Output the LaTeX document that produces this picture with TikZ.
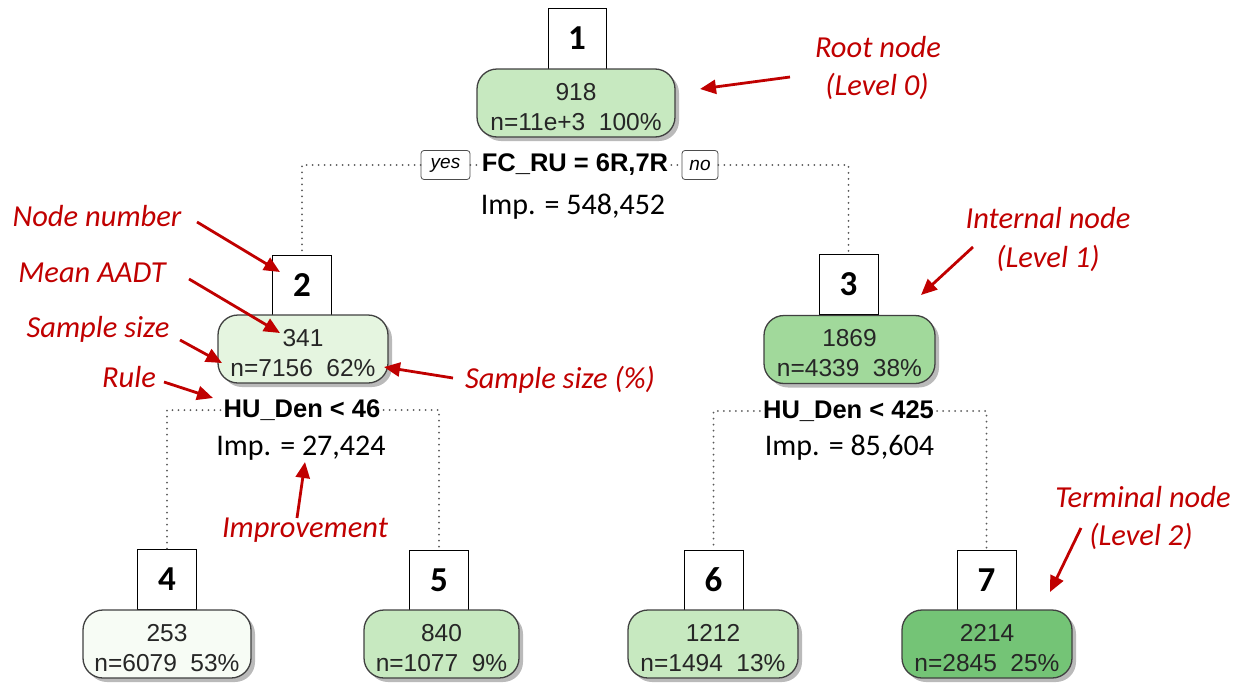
\documentclass[tikz,border=0pt]{standalone}
\usepackage{fontspec}
\setmainfont{Carlito}
\newfontfamily\arialfont{Liberation Sans}
\usetikzlibrary{arrows.meta,shadows}

\definecolor{gA}{HTML}{C7E9C0}
\definecolor{gB}{HTML}{E5F5E0}
\definecolor{gC}{HTML}{A1D99B}
\definecolor{gD}{HTML}{F7FCF5}
\definecolor{gE}{HTML}{74C476}
\definecolor{annred}{HTML}{C00000}

% two centred lines of a node body, set a little below the centre
\newcommand{\bodylines}[2]{\raisebox{-6pt}[\height][\depth]{\begin{tabular}{@{}c@{}}#1\\#2\end{tabular}}}

\begin{document}
\begin{tikzpicture}[x=1pt,y=-1pt,
  numbox/.style={draw=black, line width=0.9pt, fill=white,
    minimum width=59pt, minimum height=60pt, inner sep=0pt,
    font=\fontsize{35}{35}\selectfont\bfseries},
  body/.style={draw=black!75, line width=1.3pt, rounded corners=20pt,
    minimum height=68pt, inner sep=0pt,
    font=\arialfont\fontsize{24.5}{30}\selectfont, text=black!85,
    drop shadow={shadow xshift=4pt, shadow yshift=-4pt, fill=black!45, opacity=0.6}},
  splitrule/.style={font=\arialfont\bfseries\fontsize{25.5}{26}\selectfont, inner sep=3pt},
  imp/.style={font=\fontsize{30}{30}\selectfont, inner sep=0pt},
  yn/.style={draw=black!70, rounded corners=3pt, line width=0.8pt,
    font=\arialfont\itshape\fontsize{19}{19}\selectfont, inner sep=0pt,
    minimum height=29pt},
  link/.style={draw=black!65, line width=2pt, dash pattern=on 0pt off 6pt, line cap=round},
  note/.style={text=annred, font=\itshape\fontsize{30.5}{30}\selectfont, inner sep=0pt},
  callout/.style={draw=annred, line width=2.8pt, -{Triangle[length=16pt,width=14pt]}}
]
\useasboundingbox (0,0) rectangle (1243,683);

% ---------- split labels ----------
\node[yn, minimum width=49pt] (yes) at (445.5,165) {yes};
\node[yn, minimum width=36pt] (no) at (700,165) {no};
\node[splitrule] (r1) at (575,165) {FC\_RU = 6R,7R};
\node[imp] (i1) at (573,207) {Imp. = 548,452};

\node[splitrule] (r2) at (302,410) {HU\_Den < 46};
\node[imp] (i2) at (301,448) {Imp. = 27,424};

\node[splitrule] (r3) at (848.5,411) {HU\_Den < 425};
\node[imp] (i3) at (849.5,448) {Imp. = 85,604};

% ---------- node numbers ----------
\node[numbox, minimum width=58pt, minimum height=61pt] (n1) at (577,38.5) {1};
\node[numbox] (n2) at (302,285) {2};
\node[numbox] (n3) at (848.5,284) {3};
\node[numbox] (n4) at (167,579.5) {4};
\node[numbox] (n5) at (439,580) {5};
\node[numbox] (n6) at (713.5,580) {6};
\node[numbox] (n7) at (986.5,580) {7};

% ---------- dotted branches ----------
\draw[link] (yes.west) -| (n2.north);
\draw[link] (yes.east) -- (r1.west);
\draw[link] (r1.east) -- (no.west);
\draw[link] (no.east) -| (n3.north);
\draw[link] (r2.west) -| (n4.north);
\draw[link] (r2.east) -| (n5.north);
\draw[link] (r3.west) -| (n6.north);
\draw[link] (r3.east) -| (n7.north);

% ---------- node bodies ----------
\node[body, fill=gA, minimum width=198pt] (b1) at (576,103) {\bodylines{918}{n=11e+3\ \ 100\%}};
\node[body, fill=gB, minimum width=170pt] (b2) at (303,349) {\bodylines{341}{n=7156\ \ 62\%}};
\node[body, fill=gC, minimum width=171pt] (b3) at (849.5,349.5) {\bodylines{1869}{n=4339\ \ 38\%}};
\node[body, fill=gD, minimum width=168pt] (b4) at (167,644) {\bodylines{253}{n=6079\ \ 53\%}};
\node[body, fill=gA, minimum width=155pt] (b5) at (441.5,644) {\bodylines{840}{n=1077\ \ 9\%}};
\node[body, fill=gA, minimum width=170pt] (b6) at (713,644) {\bodylines{1212}{n=1494\ \ 13\%}};
\node[body, fill=gE, minimum width=170pt] (b7) at (987,644) {\bodylines{2214}{n=2845\ \ 25\%}};

% ---------- annotations ----------
\node[note] (tRoot) at (878,47) {Root node};
\node[note] (tRootL) at (877,86) {(Level 0)};
\node[note] (tInt) at (1048,218) {Internal node};
\node[note] (tIntL) at (1048,258) {(Level 1)};
\node[note] (tTerm) at (1143,497) {Terminal node};
\node[note] (tTermL) at (1141,536) {(Level 2)};
\node[note] (tNum) at (97,216) {Node number};
\node[note] (tMean) at (92,273) {Mean AADT};
\node[note] (tSize) at (98,329) {Sample size};
\node[note] (tRule) at (129,377) {Rule};
\node[note] (tPct) at (560,380) {Sample size (\%)};
\node[note] (tImp) at (305,530) {Improvement};

\coordinate (aRoot0) at (790,77);   \coordinate (aRoot1) at (700,89);
\coordinate (aInt0) at (973,247);   \coordinate (aInt1) at (921,295);
\coordinate (aTerm0) at (1081,528); \coordinate (aTerm1) at (1050,592);
\coordinate (aNum0) at (197,222);   \coordinate (aNum1) at (280,272);
\coordinate (aMean0) at (189,279);  \coordinate (aMean1) at (280,333);
\coordinate (aSize0) at (180,340);  \coordinate (aSize1) at (222,363);
\coordinate (aRule0) at (164,382);  \coordinate (aRule1) at (213,398);
\coordinate (aPct0) at (453,378);   \coordinate (aPct1) at (384,367);
\coordinate (aImp0) at (297,518);   \coordinate (aImp1) at (305,462);

\draw[callout] (aRoot0) -- (aRoot1);
\draw[callout] (aInt0) -- (aInt1);
\draw[callout] (aTerm0) -- (aTerm1);
\draw[callout] (aNum0) -- (aNum1);
\draw[callout] (aMean0) -- (aMean1);
\draw[callout] (aSize0) -- (aSize1);
\draw[callout] (aRule0) -- (aRule1);
\draw[callout] (aPct0) -- (aPct1);
\draw[callout] (aImp0) -- (aImp1);
\end{tikzpicture}
\end{document}
